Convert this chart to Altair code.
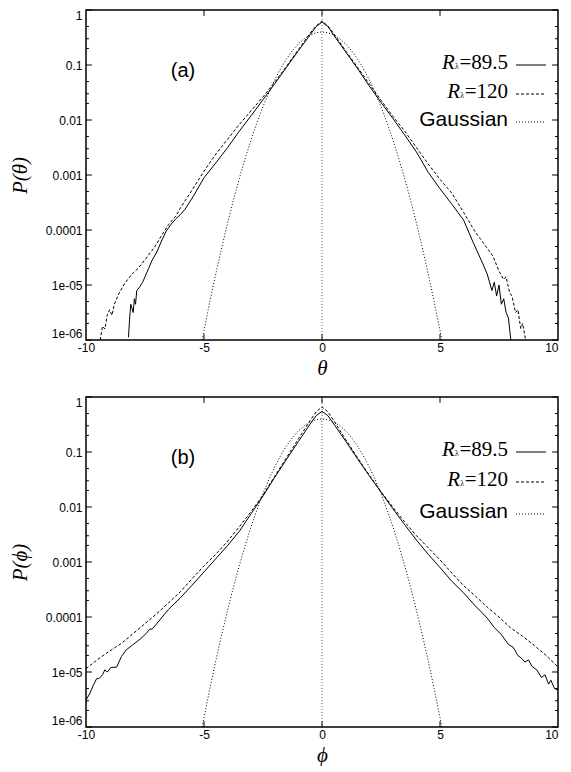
import altair as alt
import pandas as pd

SANS = "Liberation Sans"
SERIF = "Liberation Serif"

# ---------------- data (log10 P) ----------------
# panel (a) : theta
a_solid_x = [-8.2, -8.15, -8.1, -8.0, -7.95, -7.9, -7.85, -7.75, -7.6, -7.5,
             -7.35, -7.2, -7.0, -6.8, -6.6, -6.4, -6.2, -6.0, -5.8, -5.5,
             -5.2, -5.0, -4.5, -4.0, -3.5, -3.0, -2.5, -2.0, -1.5, -1.0,
             -0.5, -0.25, 0, 0.25, 0.5, 1.0, 1.5, 2.0, 2.5, 3.0,
             3.5, 4.0, 4.5, 5.0, 5.5, 6.0, 6.4, 6.8, 7.0, 7.2,
             7.3, 7.4, 7.5, 7.6, 7.7, 7.8, 7.9, 8.0]
a_solid_lp = [-5.95, -5.6, -5.35, -5.5, -5.25, -5.35, -5.1, -5.05, -4.95, -4.85,
              -4.7, -4.55, -4.4, -4.2, -4.02, -3.9, -3.8, -3.72, -3.62, -3.42,
              -3.2, -3.05, -2.78, -2.5, -2.2, -1.92, -1.63, -1.34, -1.04, -0.74,
              -0.45, -0.3, -0.22, -0.3, -0.46, -0.76, -1.06, -1.38, -1.68, -1.97,
              -2.27, -2.58, -2.95, -3.25, -3.53, -3.82, -4.22, -4.6, -4.8, -5.1,
              -4.95, -5.2, -5.0, -5.35, -5.25, -5.5, -5.6, -6.0]
a_dash_x = [-9.4, -9.3, -9.2, -9.1, -9.0, -8.9, -8.8, -8.6, -8.4, -8.2,
            -8.0, -7.8, -7.5, -7.2, -7.0, -6.8, -6.5, -6.2, -6.0, -5.5,
            -5.0, -4.5, -4.0, -3.5, -3.0, -2.5, -2.0, -1.5, -1.0, -0.5,
            -0.25, 0, 0.25, 0.5, 1.0, 1.5, 2.0, 2.5, 3.0, 3.5,
            4.0, 4.5, 5.0, 5.5, 6.0, 6.5, 7.0, 7.25, 7.5, 7.7,
            7.8, 7.95, 8.05, 8.2, 8.3, 8.42, 8.5, 8.63]
a_dash_lp = [-6.0, -5.75, -5.8, -5.55, -5.45, -5.55, -5.35, -5.15, -5.0, -4.88,
             -4.78, -4.7, -4.54, -4.37, -4.25, -4.1, -3.9, -3.75, -3.6, -3.27,
             -2.93, -2.62, -2.35, -2.08, -1.83, -1.58, -1.31, -1.02, -0.72, -0.42,
             -0.29, -0.2, -0.29, -0.43, -0.74, -1.04, -1.34, -1.64, -1.93, -2.2,
             -2.5, -2.8, -3.08, -3.33, -3.68, -4.04, -4.33, -4.48, -4.75, -4.9,
             -4.85, -5.14, -5.2, -5.5, -5.45, -5.79, -5.7, -6.0]

# panel (b) : phi
b_solid_x = [-10, -9.85, -9.7, -9.55, -9.45, -9.3, -9.2, -9.1, -8.95, -8.7,
             -8.5, -8.3, -8.0, -7.7, -7.45, -7.3, -7.2, -7.0, -6.5, -6.0,
             -5.5, -5.0, -4.5, -4.0, -3.5, -3.0, -2.5, -2.0, -1.5, -1.0,
             -0.5, -0.25, 0, 0.25, 0.5, 1.0, 1.5, 2.0, 2.5, 3.0,
             3.5, 4.0, 4.5, 5.0, 5.5, 6.0, 6.5, 6.8, 7.0, 7.3,
             7.6, 7.9, 8.1, 8.3, 8.45, 8.6, 8.75, 8.9, 9.1, 9.3,
             9.45, 9.6, 9.7, 9.85, 10]
b_solid_lp = [-5.51, -5.4, -5.25, -5.12, -5.12, -5.05, -4.96, -5.0, -4.92, -4.91,
              -4.72, -4.6, -4.5, -4.4, -4.3, -4.22, -4.22, -4.12, -3.86, -3.65,
              -3.42, -3.18, -2.94, -2.7, -2.44, -2.12, -1.8, -1.46, -1.13, -0.81,
              -0.49, -0.34, -0.26, -0.34, -0.49, -0.8, -1.12, -1.43, -1.73, -2.03,
              -2.32, -2.6, -2.86, -3.1, -3.35, -3.56, -3.8, -3.93, -4.02, -4.19,
              -4.32, -4.5, -4.55, -4.7, -4.75, -4.82, -4.78, -4.9, -4.96, -5.1,
              -5.05, -5.22, -5.15, -5.3, -5.33]
b_dash_x = [-10, -9.5, -9.0, -8.5, -8.0, -7.5, -7.0, -6.5, -6.0, -5.5,
            -5.0, -4.5, -4.0, -3.5, -3.0, -2.5, -2.0, -1.5, -1.0, -0.5,
            -0.25, 0, 0.25, 0.5, 1.0, 1.5, 2.0, 2.5, 3.0, 3.5,
            4.0, 4.5, 5.0, 5.5, 6.0, 6.5, 7.0, 7.5, 8.0, 8.5,
            9.0, 9.5, 10]
b_dash_lp = [-4.94, -4.77, -4.62, -4.48, -4.3, -4.12, -3.94, -3.74, -3.54, -3.3,
             -3.07, -2.86, -2.62, -2.36, -2.08, -1.78, -1.44, -1.1, -0.76, -0.43,
             -0.27, -0.18, -0.27, -0.43, -0.77, -1.1, -1.42, -1.72, -2.0, -2.27,
             -2.52, -2.74, -2.96, -3.2, -3.43, -3.62, -3.82, -4.0, -4.2, -4.35,
             -4.52, -4.7, -4.91]

# Gaussian curve (same in both panels), P values
g_x = [-5.1, -5.0, -4.75, -4.5, -4.25, -4.0, -3.75, -3.5, -3.25, -3.0, -2.75,
       -2.5, -2.25, -2.0, -1.75, -1.5, -1.25, -1.0, -0.75, -0.5, -0.25, 0,
       0.25, 0.5, 0.75, 1.0, 1.25, 1.5, 1.75, 2.0, 2.25, 2.5, 2.75, 3.0,
       3.25, 3.5, 3.75, 4.0, 4.25, 4.5, 4.75, 5.0, 5.1]
g_p = [8.9e-7, 1.49e-6, 5.03e-6, 1.60e-5, 4.77e-5, 1.34e-4, 3.53e-4, 8.73e-4,
       2.03e-3, 4.43e-3, 9.09e-3, 1.75e-2, 3.17e-2, 5.40e-2, 8.63e-2, 0.130,
       0.183, 0.242, 0.301, 0.352, 0.387, 0.399,
       0.387, 0.352, 0.301, 0.242, 0.183, 0.130, 8.63e-2, 5.40e-2, 3.17e-2,
       1.75e-2, 9.09e-3, 4.43e-3, 2.03e-3, 8.73e-4, 3.53e-4, 1.34e-4, 4.77e-5,
       1.60e-5, 5.03e-6, 1.49e-6, 8.9e-7]

x_ticks = [-10, -5, 0, 5, 10]
y_ticks = [1e-6, 1e-5, 1e-4, 1e-3, 1e-2, 1e-1, 1]
y_minor = [m * d for d in [1e-6, 1e-5, 1e-4, 1e-3, 1e-2, 1e-1] for m in (2, 3, 5)]
x_inner_ticks = [-5, 0, 5]
legend_nums = ["=89.5", "=120"]
legend_gauss = "Gaussian"

# ---------------- layout ----------------
W, H = 472, 330
XS = alt.Scale(domain=[-10, 10], nice=False, zero=False)
YS = alt.Scale(type="log", domain=[1e-6, 1], nice=False)
LBL_EXPR = ("datum.value >= 0.0001 ? format(datum.value, '~g') : "
            "(datum.value >= 0.00001 ? '1e-05' : '1e-06')")


def times_w(s, fs):
    w = {"=": 0.564, ".": 0.25}
    return sum(w.get(c, 0.5) for c in s) * fs


def make_panel(sx, slp, dx, dlp, sym, tag, rows):
    xaxis = alt.Axis(values=x_ticks, labelExpr="'' + datum.value", labelFont=SANS,
                     labelFontSize=12, labelColor="black", labelPadding=2,
                     labelFlush=False,
                     labelAlign={"condition": {"test": "datum.value == 10", "value": "right"},
                                 "value": "center"},
                     ticks=False, domain=False, grid=False,
                     title=sym, titleFont=SERIF, titleFontStyle="italic",
                     titleFontWeight="normal", titleFontSize=21, titleColor="black",
                     titlePadding=4)
    yaxis = alt.Axis(values=y_ticks, labelExpr=LBL_EXPR, labelFont=SANS,
                     labelFontSize=12, labelColor="black", labelPadding=4,
                     labelFlush=True, ticks=False, domain=False, grid=False,
                     title=f"P({sym})", titleFont=SERIF, titleFontStyle="italic",
                     titleFontWeight="normal", titleFontSize=21, titleColor="black",
                     titlePadding=15)

    def X(f):
        return alt.X(f, type="quantitative", scale=XS, axis=xaxis)

    def Y(f):
        return alt.Y(f, type="quantitative", scale=YS, axis=yaxis)

    def series_df(xs, lps):
        return pd.DataFrame({"x": xs, "p": [10 ** v for v in lps]})

    solid = alt.Chart(series_df(sx, slp)).mark_line(
        clip=True, color="black", strokeWidth=1).encode(x=X("x"), y=Y("p"))
    dashed = alt.Chart(series_df(dx, dlp)).mark_line(
        clip=True, color="black", strokeWidth=1, strokeDash=[3, 2]).encode(x=X("x"), y=Y("p"))
    gauss = alt.Chart(pd.DataFrame({"x": g_x, "p": g_p})).mark_line(
        clip=True, color="black", strokeWidth=1, strokeDash=[1, 2]).encode(x=X("x"), y=Y("p"))
    zero = alt.Chart(pd.DataFrame({"x": [0]})).mark_rule(
        color="#444", strokeWidth=0.8, strokeDash=[1, 2]).encode(x=X("x"))

    # inward ticks (gnuplot style)
    big, small = 0.25, 0.125
    yt = []
    for v in y_ticks:
        yt += [(v, -10, -10 + big), (v, 10 - big, 10)]
    for v in y_minor:
        yt += [(v, -10, -10 + small), (v, 10 - small, 10)]
    ytdf = pd.DataFrame(yt, columns=["y", "x1", "x2"])
    yticks = alt.Chart(ytdf).mark_rule(color="black", strokeWidth=1).encode(
        y=Y("y"), x=X("x1"), x2="x2")
    xt = []
    for v in x_inner_ticks:
        xt += [(v, 1e-6, 1.28e-6), (v, 1 / 1.28, 1.0)]
    xtdf = pd.DataFrame(xt, columns=["x", "y1", "y2"])
    xticks = alt.Chart(xtdf).mark_rule(color="black", strokeWidth=1).encode(
        x=X("x"), y=Y("y1"), y2="y2")

    layers = [gauss, dashed, solid, zero, yticks, xticks]

    # legend
    xr = 422
    fs = 21
    dashes = [[1, 0], [3, 2], [1, 2]]
    for i, lab in enumerate(legend_nums):
        ty = rows[i] - 2
        w = times_w(lab, fs)
        layers.append(alt.Chart(pd.DataFrame({"t": [lab]})).mark_text(
            font=SERIF, fontSize=fs, align="right", baseline="middle", color="black"
        ).encode(text="t:N", x=alt.value(xr), y=alt.value(ty)))
        layers.append(alt.Chart(pd.DataFrame({"t": ["λ"]})).mark_text(
            font=SERIF, fontSize=8, align="right", baseline="middle", color="black"
        ).encode(text="t:N", x=alt.value(xr - w - 0.5), y=alt.value(ty + 4)))
        layers.append(alt.Chart(pd.DataFrame({"t": ["R"]})).mark_text(
            font=SERIF, fontSize=fs, fontStyle="italic", align="right",
            baseline="middle", color="black"
        ).encode(text="t:N", x=alt.value(xr - w - 4.5), y=alt.value(ty)))
    layers.append(alt.Chart(pd.DataFrame({"t": [legend_gauss]})).mark_text(
        font=SANS, fontSize=21, align="right", baseline="middle", color="black"
    ).encode(text="t:N", x=alt.value(xr), y=alt.value(rows[2] - 2)))
    for i in range(3):
        layers.append(alt.Chart(pd.DataFrame({"k": [i]})).mark_rule(
            color="black", strokeWidth=1, strokeDash=dashes[i]
        ).encode(x=alt.value(430), x2=alt.value(460), y=alt.value(rows[i])))
    layers.append(alt.Chart(pd.DataFrame({"t": [tag]})).mark_text(
        font=SANS, fontSize=20, align="center", baseline="middle", color="black"
    ).encode(text="t:N", x=alt.value(97), y=alt.value(61)))

    return alt.layer(*layers).properties(width=W, height=H)


panel_a = make_panel(a_solid_x, a_solid_lp, a_dash_x, a_dash_lp, "θ", "(a)", [55, 84, 112])
panel_b = make_panel(b_solid_x, b_solid_lp, b_dash_x, b_dash_lp, "ϕ", "(b)", [55, 85, 117])

chart = alt.vconcat(panel_a, panel_b, spacing=16).properties(
    padding={"left": 0, "top": 0, "right": 0, "bottom": 0},
    background="white",
).configure_view(stroke="black", strokeWidth=1.5)

chart.save("out.html", embed_options={"renderer": "svg", "actions": False})
